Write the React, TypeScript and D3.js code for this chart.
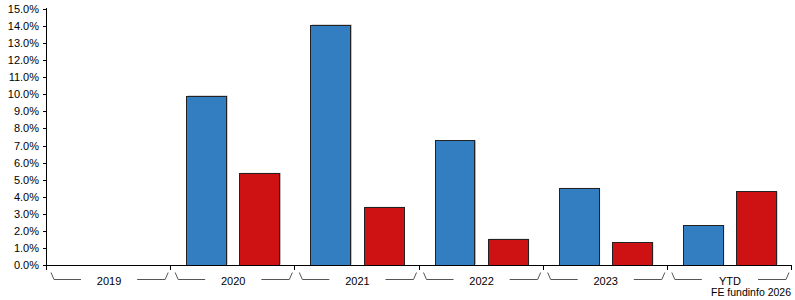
import React from "react";
import * as d3 from "d3";

const categories = ["2019", "2020", "2021", "2022", "2023", "YTD"];
const seriesNames = ["Fund", "Sector"];
const fundValues: (number | null)[] = [null, 9.9, 14.06, 7.28, 4.49, 2.3];
const sectorValues: (number | null)[] = [null, 5.37, 3.38, 1.51, 1.29, 4.28];
const yTicks = [0, 1, 2, 3, 4, 5, 6, 7, 8, 9, 10, 11, 12, 13, 14, 15];
const colors = ["#337EC0", "#CE1112"];
const credit = "FE fundinfo 2026";

const W = 795;
const H = 300;
const left = 47;
const right = 792;
const top = 9;
const bottom = 265;

export default function App() {
  const x = d3.scaleBand<string>().domain(categories).range([left, right]).padding(0);
  const step = x.step();
  const inner = d3
    .scaleBand<string>()
    .domain(seriesNames)
    .range([15.5, step - 15.5])
    .paddingInner(0.25)
    .paddingOuter(0);
  const y = d3.scaleLinear().domain([0, 15]).range([bottom, top]);
  const series = [fundValues, sectorValues];
  const font = "Arial, 'Liberation Sans', sans-serif";
  const boundaries = categories.map((c) => x(c)!).concat([right]);

  return (
    <svg
      width={W}
      height={H}
      style={{ position: "absolute", left: 0, top: 0, background: "#fff" }}
      fontFamily={font}
    >
      {categories.map((c, i) =>
        series.map((vals, s) => {
          const v = vals[i];
          if (v == null) return null;
          const bx = x(c)! + inner(seriesNames[s])!;
          const bw = inner.bandwidth();
          const by = y(v);
          const bh = y(0) - by;
          return (
            <g key={c + s}>
              <rect x={bx + 1} y={by - 0.5} width={bw} height={bh} fill="#aaa" />
              <rect
                x={bx}
                y={by}
                width={bw}
                height={bh}
                fill={colors[s]}
                stroke="#222"
                strokeWidth={1}
                shapeRendering="crispEdges"
              />
            </g>
          );
        })
      )}
      <line x1={left - 0.5} x2={left - 0.5} y1={top - 1} y2={bottom} stroke="#000" shapeRendering="crispEdges" />
      {yTicks.map((t) => (
        <g key={t}>
          <line x1={left - 4} x2={left} y1={Math.round(y(t)) + 0.5} y2={Math.round(y(t)) + 0.5} stroke="#000" />
          <text x={39} y={y(t) + 4} textAnchor="end" fontSize={11} fill="#000">
            {t.toFixed(1) + "%"}
          </text>
        </g>
      ))}
      <line x1={left - 1} x2={right} y1={bottom + 0.5} y2={bottom + 0.5} stroke="#000" />
      {boundaries.map((b, i) => (
        <line key={i} x1={Math.round(b) - 0.5} x2={Math.round(b) - 0.5} y1={bottom} y2={bottom + 5} stroke="#000" />
      ))}
      {categories.map((c) => {
        const x0 = x(c)!;
        const x1 = x0 + step;
        const cx = x0 + step / 2;
        return (
          <g key={c}>
            <polyline
              points={`${x0 + 4},272.5 ${x0 + 7},279.5 ${x0 + 34},279.5`}
              fill="none"
              stroke="#555"
              strokeWidth={1}
            />
            <polyline
              points={`${x1 - 34},279.5 ${x1 - 6},279.5 ${x1 - 3},272.5`}
              fill="none"
              stroke="#555"
              strokeWidth={1}
            />
            <text x={cx} y={284.5} textAnchor="middle" fontSize={11} fill="#000">
              {c}
            </text>
          </g>
        );
      })}
      <text x={791} y={296} textAnchor="end" fontSize={10.5} fill="#000">
        {credit}
      </text>
    </svg>
  );
}
